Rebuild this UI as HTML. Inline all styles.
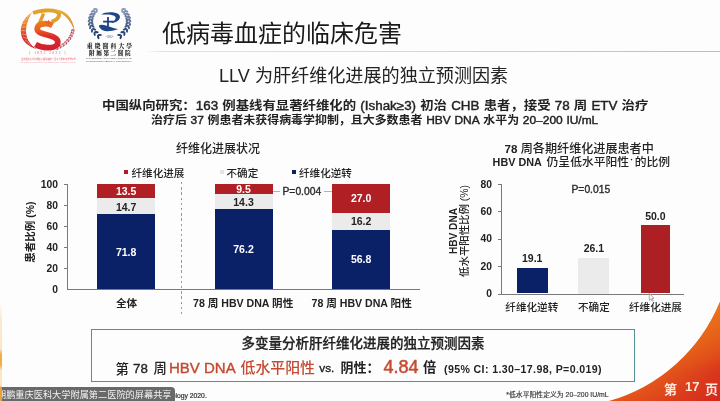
<!DOCTYPE html>
<html><head><meta charset="utf-8">
<style>
*{margin:0;padding:0;box-sizing:border-box}
html,body{width:720px;height:401px;overflow:hidden;background:#fefdfe}
body{position:relative;font-family:"Liberation Sans","Noto Sans CJK SC",sans-serif;color:#222}
.a{position:absolute;white-space:nowrap;line-height:1}
.m{font-weight:500}
.L{font-weight:bold}
.R{font-weight:normal;-webkit-text-stroke:0.45px #222}
.bar{position:absolute}
.red{background:#b01f24}
.gry{background:#ebebeb}
.nav{background:#0a2168}
.lbl{position:absolute;white-space:nowrap;line-height:1;font-weight:bold;font-size:10.5px;text-align:center}
.tk{position:absolute;white-space:nowrap;line-height:1;font-weight:bold;font-size:10.3px;text-align:right;color:#222}
.ax{position:absolute;background:#7a7a7a}
.or{color:#c44a30}
</style></head><body>
<div id="root" style="position:absolute;left:0;top:0;width:720px;height:401px;overflow:hidden;background:#fefdfe;filter:blur(0.3px)">

<!-- logos -->
<svg class="a" style="left:0;top:0" width="145" height="70" viewBox="0 0 145 70">
  <defs>
    <linearGradient id="gc" x1="0" y1="0" x2="0" y2="1">
      <stop offset="0" stop-color="#ecb040"/><stop offset="0.35" stop-color="#e8782a"/><stop offset="0.65" stop-color="#dc3a2a"/><stop offset="1" stop-color="#cc1f2b"/>
    </linearGradient>
    <linearGradient id="gs" gradientUnits="userSpaceOnUse" x1="0" y1="23" x2="0" y2="48">
      <stop offset="0" stop-color="#ec7a1c"/><stop offset="0.3" stop-color="#e85a20"/><stop offset="0.55" stop-color="#dc2a2a"/><stop offset="1" stop-color="#d21f2e"/>
    </linearGradient>
    <linearGradient id="gw" gradientUnits="userSpaceOnUse" x1="0" y1="10" x2="0" y2="31">
      <stop offset="0" stop-color="#e6b040"/><stop offset="1" stop-color="#d8802a"/>
    </linearGradient>
  </defs>
  <!-- left crescent -->
  <path d="M32 12.5 C25 16.5 20.5 24 20.8 32 C21.2 40.5 27.5 46.5 37 49.3 C31 45.5 27 40.5 26.2 33.5 C25.5 26 28 19 32 12.5Z" fill="url(#gc)"/>
  <g stroke="#fff" stroke-width="0.5" opacity="0.75">
    <path d="M29.5 15.5 l-2.5 2.2"/><path d="M27.4 19 l-3.2 1.5"/><path d="M26.2 22.8 l-3.8 0.9"/><path d="M25.6 26.8 l-4.2 0.3"/><path d="M25.6 30.8 l-4.4 -0.3"/><path d="M26.0 34.8 l-4.3 -0.9"/><path d="M27.0 38.6 l-4.0 -1.6"/><path d="M28.6 42.2 l-3.6 -2.2"/><path d="M30.8 45.3 l-3.2 -2.6"/>
  </g>
  <!-- top gold band + P bowl -->
  <path d="M33 13 C40 10.2 51 9.5 56.5 11.5 C60.8 13.2 60.2 18.8 51.5 21.8" fill="none" stroke="#e2a22a" stroke-width="3.9"/>
  <path d="M43.5 13.5 C42 18 40 22 37.8 26.5" fill="none" stroke="#e49a2c" stroke-width="3.4"/>
  <!-- right swoosh -->
  <path d="M54.5 9.4 C64.5 9.4 72.8 16 74.6 31 C72 24 68 16.8 59.5 12.4Z" fill="url(#gw)"/>
  <!-- right wheat -->
  <path d="M73 29 C72.5 37 66 45 55.5 48.8" fill="none" stroke="#f2c8c8" stroke-width="3" opacity="0.8"/>
  <ellipse cx="72.0" cy="30.2" rx="1.3" ry="0.6" transform="rotate(123 72.0 30.2)" fill="#a8293d" opacity="0.85"/><ellipse cx="73.8" cy="30.5" rx="1.3" ry="0.6" transform="rotate(73 73.8 30.5)" fill="#a8293d" opacity="0.85"/><ellipse cx="71.4" cy="32.7" rx="1.3" ry="0.6" transform="rotate(132 71.4 32.7)" fill="#a62b3f" opacity="0.85"/><ellipse cx="73.1" cy="33.2" rx="1.3" ry="0.6" transform="rotate(82 73.1 33.2)" fill="#a62b3f" opacity="0.85"/><ellipse cx="70.4" cy="35.2" rx="1.3" ry="0.6" transform="rotate(141 70.4 35.2)" fill="#a42d41" opacity="0.85"/><ellipse cx="72.0" cy="36.0" rx="1.3" ry="0.6" transform="rotate(91 72.0 36.0)" fill="#a42d41" opacity="0.85"/><ellipse cx="69.1" cy="37.6" rx="1.3" ry="0.6" transform="rotate(148 69.1 37.6)" fill="#a22f43" opacity="0.85"/><ellipse cx="70.6" cy="38.6" rx="1.3" ry="0.6" transform="rotate(98 70.6 38.6)" fill="#a22f43" opacity="0.85"/><ellipse cx="67.3" cy="39.9" rx="1.3" ry="0.6" transform="rotate(156 67.3 39.9)" fill="#a03246" opacity="0.85"/><ellipse cx="68.7" cy="41.1" rx="1.3" ry="0.6" transform="rotate(106 68.7 41.1)" fill="#a03246" opacity="0.85"/><ellipse cx="65.2" cy="42.0" rx="1.3" ry="0.6" transform="rotate(163 65.2 42.0)" fill="#9d3448" opacity="0.85"/><ellipse cx="66.4" cy="43.4" rx="1.3" ry="0.6" transform="rotate(113 66.4 43.4)" fill="#9d3448" opacity="0.85"/><ellipse cx="62.8" cy="44.0" rx="1.3" ry="0.6" transform="rotate(169 62.8 44.0)" fill="#9b364a" opacity="0.85"/><ellipse cx="63.8" cy="45.5" rx="1.3" ry="0.6" transform="rotate(119 63.8 45.5)" fill="#9b364a" opacity="0.85"/><ellipse cx="60.0" cy="45.8" rx="1.3" ry="0.6" transform="rotate(176 60.0 45.8)" fill="#99384c" opacity="0.85"/><ellipse cx="60.8" cy="47.4" rx="1.3" ry="0.6" transform="rotate(126 60.8 47.4)" fill="#99384c" opacity="0.85"/><ellipse cx="56.9" cy="47.3" rx="1.3" ry="0.6" transform="rotate(182 56.9 47.3)" fill="#973a4e" opacity="0.85"/><ellipse cx="57.6" cy="49.0" rx="1.3" ry="0.6" transform="rotate(132 57.6 49.0)" fill="#973a4e" opacity="0.85"/>
  <!-- S -->
  <path d="M52.5 25.5 C47.5 22.6 37.8 23 37.2 28.4 C36.6 33.4 45 34 51 36 C57 38 59.5 41.5 56.8 45 C53.5 49 42 48.2 35.5 44.5" fill="none" stroke="url(#gs)" stroke-width="5.7"/>
  <path d="M48.4 20 v5.4 M45.7 22.7 h5.4" stroke="#dc5a2a" stroke-width="0.9"/>
  <text x="47.3" y="53.7" font-size="3.5" fill="#d86464" text-anchor="middle" font-family="Liberation Serif" textLength="36" lengthAdjust="spacing">( 1892 2022 )</text>
  <text x="48.5" y="59.7" font-size="2.8" fill="#e05060" text-anchor="middle" font-family="Noto Sans CJK SC" textLength="55" lengthAdjust="spacingAndGlyphs" opacity="0.85">重庆医科大学附属第二医院建院一百三十周年纪念暨学术</text>
  <text x="48" y="62.8" font-size="2.2" fill="#e8a0a8" text-anchor="middle" font-family="Liberation Sans" textLength="55" lengthAdjust="spacingAndGlyphs">THE SECOND AFFILIATED HOSPITAL OF CHONGQING MEDICAL UNIVERSITY 1892-2022</text>

  <!-- logo 2 laurel -->
  <ellipse cx="95.0" cy="9.0" rx="2.2" ry="1.05" transform="rotate(173 95.0 9.0)" fill="#8b9aba"/><ellipse cx="96.7" cy="10.9" rx="2.2" ry="1.05" transform="rotate(103 96.7 10.9)" fill="#8b9aba"/><ellipse cx="92.8" cy="11.3" rx="2.2" ry="1.05" transform="rotate(163 92.8 11.3)" fill="#7b8caf"/><ellipse cx="94.8" cy="12.9" rx="2.2" ry="1.05" transform="rotate(93 94.8 12.9)" fill="#7b8caf"/><ellipse cx="91.1" cy="14.1" rx="2.2" ry="1.05" transform="rotate(152 91.1 14.1)" fill="#6e80a5"/><ellipse cx="93.4" cy="15.2" rx="2.2" ry="1.05" transform="rotate(82 93.4 15.2)" fill="#6e80a5"/><ellipse cx="89.9" cy="17.1" rx="2.2" ry="1.05" transform="rotate(141 89.9 17.1)" fill="#62759c"/><ellipse cx="92.4" cy="17.8" rx="2.2" ry="1.05" transform="rotate(71 92.4 17.8)" fill="#62759c"/><ellipse cx="89.3" cy="20.3" rx="2.2" ry="1.05" transform="rotate(129 89.3 20.3)" fill="#566a93"/><ellipse cx="91.9" cy="20.5" rx="2.2" ry="1.05" transform="rotate(59 91.9 20.5)" fill="#566a93"/><ellipse cx="89.4" cy="23.7" rx="2.2" ry="1.05" transform="rotate(117 89.4 23.7)" fill="#4b608b"/><ellipse cx="92.0" cy="23.3" rx="2.2" ry="1.05" transform="rotate(47 92.0 23.3)" fill="#4b608b"/><ellipse cx="90.3" cy="27.1" rx="2.2" ry="1.05" transform="rotate(104 90.3 27.1)" fill="#405783"/><ellipse cx="92.7" cy="26.2" rx="2.2" ry="1.05" transform="rotate(34 92.7 26.2)" fill="#405783"/><ellipse cx="92.0" cy="30.6" rx="2.2" ry="1.05" transform="rotate(93 92.0 30.6)" fill="#364d7b"/><ellipse cx="94.2" cy="29.2" rx="2.2" ry="1.05" transform="rotate(23 94.2 29.2)" fill="#364d7b"/><ellipse cx="94.6" cy="33.9" rx="2.2" ry="1.05" transform="rotate(82 94.6 33.9)" fill="#2c4473"/><ellipse cx="96.5" cy="32.1" rx="2.2" ry="1.05" transform="rotate(12 96.5 32.1)" fill="#2c4473"/><ellipse cx="98.2" cy="37.1" rx="2.2" ry="1.05" transform="rotate(72 98.2 37.1)" fill="#223b6c"/><ellipse cx="99.7" cy="35.0" rx="2.2" ry="1.05" transform="rotate(2 99.7 35.0)" fill="#223b6c"/><ellipse cx="124.0" cy="9.0" rx="2.2" ry="1.05" transform="rotate(7 124.0 9.0)" fill="#8b9aba"/><ellipse cx="122.3" cy="10.9" rx="2.2" ry="1.05" transform="rotate(77 122.3 10.9)" fill="#8b9aba"/><ellipse cx="126.2" cy="11.3" rx="2.2" ry="1.05" transform="rotate(17 126.2 11.3)" fill="#7b8caf"/><ellipse cx="124.2" cy="12.9" rx="2.2" ry="1.05" transform="rotate(87 124.2 12.9)" fill="#7b8caf"/><ellipse cx="127.9" cy="14.1" rx="2.2" ry="1.05" transform="rotate(28 127.9 14.1)" fill="#6e80a5"/><ellipse cx="125.6" cy="15.2" rx="2.2" ry="1.05" transform="rotate(98 125.6 15.2)" fill="#6e80a5"/><ellipse cx="129.1" cy="17.1" rx="2.2" ry="1.05" transform="rotate(39 129.1 17.1)" fill="#62759c"/><ellipse cx="126.6" cy="17.8" rx="2.2" ry="1.05" transform="rotate(109 126.6 17.8)" fill="#62759c"/><ellipse cx="129.7" cy="20.3" rx="2.2" ry="1.05" transform="rotate(51 129.7 20.3)" fill="#566a93"/><ellipse cx="127.1" cy="20.5" rx="2.2" ry="1.05" transform="rotate(121 127.1 20.5)" fill="#566a93"/><ellipse cx="129.6" cy="23.7" rx="2.2" ry="1.05" transform="rotate(63 129.6 23.7)" fill="#4b608b"/><ellipse cx="127.0" cy="23.3" rx="2.2" ry="1.05" transform="rotate(133 127.0 23.3)" fill="#4b608b"/><ellipse cx="128.7" cy="27.1" rx="2.2" ry="1.05" transform="rotate(76 128.7 27.1)" fill="#405783"/><ellipse cx="126.3" cy="26.2" rx="2.2" ry="1.05" transform="rotate(146 126.3 26.2)" fill="#405783"/><ellipse cx="127.0" cy="30.6" rx="2.2" ry="1.05" transform="rotate(87 127.0 30.6)" fill="#364d7b"/><ellipse cx="124.8" cy="29.2" rx="2.2" ry="1.05" transform="rotate(157 124.8 29.2)" fill="#364d7b"/><ellipse cx="124.4" cy="33.9" rx="2.2" ry="1.05" transform="rotate(98 124.4 33.9)" fill="#2c4473"/><ellipse cx="122.5" cy="32.1" rx="2.2" ry="1.05" transform="rotate(168 122.5 32.1)" fill="#2c4473"/><ellipse cx="120.8" cy="37.1" rx="2.2" ry="1.05" transform="rotate(108 120.8 37.1)" fill="#223b6c"/><ellipse cx="119.3" cy="35.0" rx="2.2" ry="1.05" transform="rotate(178 119.3 35.0)" fill="#223b6c"/>
  <!-- emblem -->
  <path d="M101.3 14.6 C104.5 12 114 11.3 118.6 14.2 C121.5 16.5 119.6 21.2 114 22.6 L110.8 22.9 C114.3 21.3 116 19.3 115.6 17.3 C115 14.8 108 14.1 101.3 14.6Z" fill="#1d4688"/>
  <path d="M98.9 25.4 C99.6 30 104.8 31.6 110 31.1 C113.2 30.8 116 29.9 118 29 C114 28.6 110 27.1 106 25.6 C103 24.4 100.5 24.4 98.9 25.4Z" fill="#1d4688"/>
  <path d="M108 17 v9.8 M103.1 21.6 h10.7" stroke="#1d3f80" stroke-width="1.8"/>
  <text x="109.5" y="38.3" font-size="3" fill="#44609a" text-anchor="middle" font-family="Liberation Serif" font-style="italic">-1892-</text>
  <text x="109.5" y="48.3" font-size="5.9" fill="#222" text-anchor="middle" font-family="Noto Serif CJK SC" font-weight="900" textLength="45.5" lengthAdjust="spacing">重慶醫科大學</text>
  <text x="109.8" y="55.2" font-size="5.6" fill="#222" text-anchor="middle" font-family="Noto Serif CJK SC" font-weight="900" textLength="41.5" lengthAdjust="spacing">附屬第二醫院</text>
  <text x="109" y="59.2" font-size="2.5" fill="#555" text-anchor="middle" font-family="Liberation Sans" textLength="46" lengthAdjust="spacingAndGlyphs">THE SECOND AFFILIATED HOSPITAL OF</text>
  <text x="109" y="62.3" font-size="2.5" fill="#555" text-anchor="middle" font-family="Liberation Sans" textLength="46" lengthAdjust="spacingAndGlyphs">CHONGQING MEDICAL UNIVERSITY</text>
</svg>

<!-- title -->
<div class="a" id="t1" style="left:162px;top:20px;font-size:24px;color:#1a1a1a;font-family:'Noto Sans CJK SC',sans-serif">低病毒血症的临床危害</div>
<div class="a" style="left:145px;top:50.8px;width:575px;height:1.7px;background:linear-gradient(90deg,rgba(236,232,196,0),#e9e4bf 3%,#e6dfc2 28%,#ddd2c2 52%,#c6b8b3 100%)"></div>

<!-- subtitle -->
<div class="a" id="t2" style="left:219px;top:67.3px;font-size:18.1px;color:#222">LLV 为肝纤维化进展的独立预测因素</div>

<!-- body text -->
<div class="a" id="t3" style="left:102px;top:98.5px;font-size:13.4px;word-spacing:0.45px;font-weight:bold;transform:scaleY(0.9);transform-origin:0 55%;color:#222">中国纵向研究：<span class="R">163</span> 例基线有显著纤维化的 <span class="R">(Ishak≥3)</span> 初治 <span class="R">CHB</span> 患者，接受 <span class="R">78</span> 周 <span class="R">ETV</span> 治疗</div>
<div class="a" id="t4" style="left:151px;top:114.8px;font-size:11.95px;word-spacing:0.4px;font-weight:bold;transform:scaleY(0.92);transform-origin:0 55%;color:#222">治疗后 <span class="R">37</span> 例患者未获得病毒学抑制，且大多数患者 <span class="R">HBV DNA</span> 水平为 <span class="R">20–200 IU/mL</span></div>

<!-- LEFT CHART -->
<div class="a m" id="c1t" style="left:176px;top:143px;font-size:12px;color:#222">纤维化进展状况</div>
<div class="a" style="left:124.3px;top:170px;width:4px;height:4px;background:#b01f24"></div>
<div class="a m" id="lg1" style="left:131.5px;top:167.8px;font-size:10.6px;color:#222">纤维化进展</div>
<div class="a" style="left:220px;top:170px;width:4px;height:4px;background:#e4e4e4"></div>
<div class="a m" id="lg2" style="left:226.5px;top:167.8px;font-size:10.6px;color:#222">不确定</div>
<div class="a" style="left:292.3px;top:170px;width:4px;height:4px;background:#0a2168"></div>
<div class="a m" id="lg3" style="left:299px;top:167.8px;font-size:10.6px;color:#222">纤维化逆转</div>

<!-- axes -->
<div class="ax" style="left:66.5px;top:184px;width:1px;height:106px"></div>
<div class="ax" style="left:66.5px;top:289px;width:353px;height:1px"></div>
<div class="ax" style="left:64px;top:184px;width:3px;height:1px"></div>
<div class="ax" style="left:64px;top:205px;width:3px;height:1px"></div>
<div class="ax" style="left:64px;top:226px;width:3px;height:1px"></div>
<div class="ax" style="left:64px;top:247px;width:3px;height:1px"></div>
<div class="ax" style="left:64px;top:268px;width:3px;height:1px"></div>
<div class="tk" style="left:30px;width:28px;top:179.5px">100</div>
<div class="tk" style="left:30px;width:28px;top:200.5px">80</div>
<div class="tk" style="left:30px;width:28px;top:221.5px">60</div>
<div class="tk" style="left:30px;width:28px;top:242.5px">40</div>
<div class="tk" style="left:30px;width:28px;top:263.5px">20</div>
<div class="tk" style="left:30px;width:28px;top:284.5px">0</div>
<div class="a" id="yl1" style="left:29.5px;top:232.3px;font-size:10.5px;font-weight:bold;color:#222;transform:translate(-50%,-50%) rotate(-90deg)">患者比例 (%)</div>

<!-- dashed separator -->
<div class="a" style="left:180.5px;top:182px;width:1px;height:135px;background:repeating-linear-gradient(180deg,#999 0 2.5px,transparent 2.5px 5.2px)"></div>

<!-- bar1 -->
<div class="bar red" style="left:97px;top:184.3px;width:58.2px;height:13.7px"></div>
<div class="bar gry" style="left:97px;top:198px;width:58.2px;height:15.8px"></div>
<div class="bar nav" style="left:97px;top:213.8px;width:58.2px;height:75.2px"></div>
<!-- bar2 -->
<div class="bar red" style="left:214.5px;top:184.3px;width:58px;height:9.9px"></div>
<div class="bar gry" style="left:214.5px;top:194.2px;width:58px;height:15px"></div>
<div class="bar nav" style="left:214.5px;top:209.2px;width:58px;height:79.8px"></div>
<!-- bar3 -->
<div class="bar red" style="left:332px;top:184.3px;width:58.3px;height:28.5px"></div>
<div class="bar gry" style="left:332px;top:212.8px;width:58.3px;height:17px"></div>
<div class="bar nav" style="left:332px;top:229.8px;width:58.3px;height:59.2px"></div>

<!-- bar values -->
<div class="lbl" style="left:97px;width:58.2px;top:186px;color:#fff">13.5</div>
<div class="lbl" style="left:97px;width:58.2px;top:201.5px;color:#222">14.7</div>
<div class="lbl" style="left:97px;width:58.2px;top:246.5px;color:#fff">71.8</div>
<div class="lbl" style="left:214.5px;width:58px;top:184.3px;color:#fff">9.5</div>
<div class="lbl" style="left:214.5px;width:58px;top:197px;color:#222">14.3</div>
<div class="lbl" style="left:214.5px;width:58px;top:244px;color:#fff">76.2</div>
<div class="lbl" style="left:332px;width:58.3px;top:193px;color:#fff">27.0</div>
<div class="lbl" style="left:332px;width:58.3px;top:216px;color:#222">16.2</div>
<div class="lbl" style="left:332px;width:58.3px;top:254px;color:#fff">56.8</div>

<!-- p-value bracket -->
<div class="a" style="left:272.5px;top:190.5px;width:7.5px;height:1px;background:#d9a494"></div>
<div class="a" style="left:324px;top:190.5px;width:8px;height:1px;background:#d9a494"></div>
<div class="a m" id="p1" style="left:282.5px;top:187px;font-size:10.3px;color:#2a2a2a;-webkit-text-stroke:0.35px #2a2a2a">P=0.004</div>

<!-- x labels -->
<div class="a" id="xl1" style="left:116px;top:298px;font-size:10.6px;font-weight:bold;color:#222">全体</div>
<div class="a" id="xl2" style="left:193px;top:298px;font-size:10.6px;font-weight:bold;color:#222">78 周 HBV DNA 阴性</div>
<div class="a" id="xl3" style="left:311.5px;top:298px;font-size:10.6px;font-weight:bold;color:#222">78 周 HBV DNA 阳性</div>

<!-- RIGHT CHART -->
<div class="a m" id="r1" style="left:504.5px;top:142.8px;font-size:12.1px;color:#222"><span class="L" style="font-size:11.6px">78</span> 周各期纤维化进展患者中</div>
<div class="a m" id="r2" style="left:492.6px;top:156.7px;font-size:11.8px;color:#222"><span class="L" style="font-size:10.8px;margin-right:1.5px">HBV DNA</span> 仍呈低水平阳性<span style="font-size:9px;position:relative;top:-2.5px;margin:0 1.5px 0 1px;font-weight:bold">·</span>的比例</div>

<div class="ax" style="left:500.8px;top:184px;width:1px;height:110px"></div>
<div class="ax" style="left:498px;top:293.5px;width:186px;height:1px"></div>
<div class="ax" style="left:498px;top:184px;width:3px;height:1px"></div>
<div class="ax" style="left:498px;top:211.4px;width:3px;height:1px"></div>
<div class="ax" style="left:498px;top:238.8px;width:3px;height:1px"></div>
<div class="ax" style="left:498px;top:266.2px;width:3px;height:1px"></div>
<div class="tk" style="left:470px;width:22px;top:179.5px">80</div>
<div class="tk" style="left:470px;width:22px;top:206.9px">60</div>
<div class="tk" style="left:470px;width:22px;top:234.3px">40</div>
<div class="tk" style="left:470px;width:22px;top:261.7px">20</div>
<div class="tk" style="left:470px;width:22px;top:289.1px">0</div>
<div class="a" id="yl2a" style="left:453.5px;top:231px;font-size:10.1px;font-weight:bold;color:#222;transform:translate(-50%,-50%) rotate(-90deg)">HBV DNA</div>
<div class="a" id="yl2b" style="left:464.8px;top:230.8px;font-size:10.4px;color:#222;font-weight:500;transform:translate(-50%,-50%) rotate(-90deg)">低水平阳性比例 (%)</div>

<div class="a m" id="p2" style="left:571.5px;top:185px;font-size:10.3px;color:#2a2a2a;-webkit-text-stroke:0.35px #2a2a2a">P=0.015</div>

<div class="bar nav" style="left:516.9px;top:267.7px;width:30.7px;height:25.8px"></div>
<div class="bar gry" style="left:578.4px;top:258px;width:31px;height:35.5px;background:#ebebeb"></div>
<div class="bar red" style="left:640.6px;top:225.3px;width:29.5px;height:68.2px;background:#ac1f22"></div>
<div class="lbl" style="left:516.9px;width:30.7px;top:252.5px;color:#222">19.1</div>
<div class="lbl" style="left:578.4px;width:31px;top:243px;color:#222">26.1</div>
<div class="lbl" style="left:640.6px;width:29.5px;top:210.5px;color:#222">50.0</div>

<div class="a m" id="rx1" style="left:505.3px;top:302px;font-size:10.6px;color:#222">纤维化逆转</div>
<div class="a m" id="rx2" style="left:578px;top:302px;font-size:10.6px;color:#222">不确定</div>
<div class="a m" id="rx3" style="left:629px;top:302px;font-size:10.6px;color:#222">纤维化进展</div>

<!-- cursor -->
<svg class="a" style="left:640px;top:288px" width="20" height="16" viewBox="640 288 20 16"><path d="M649.3 293.3 L649.3 300.3 L650.9 298.8 L652 301.2 L653.1 300.7 L652 298.4 L654 298.4 Z" fill="#fff" stroke="#8a8a8a" stroke-width="0.7"/></svg>

<!-- bottom box -->
<div class="a" style="left:90.9px;top:329px;width:544.2px;height:52.6px;border:1.6px solid #578f93"></div>
<div class="a m" id="bx1" style="left:241.5px;top:336.5px;font-size:13.5px;color:#222;-webkit-text-stroke:0.25px #222">多变量分析肝纤维化进展的独立预测因素</div>

<div class="a m" id="b1" style="left:115.5px;top:362.5px;font-size:13.3px">第</div>
<div class="a" id="b2" style="left:133px;top:361.5px;font-size:13.3px;-webkit-text-stroke:0.35px #222">78</div>
<div class="a m" id="b3" style="left:153.5px;top:362px;font-size:13.3px">周</div>
<div class="a or" id="b4" style="left:169px;top:359.7px;font-size:15px;-webkit-text-stroke:0.4px #c44a30">HBV DNA</div>
<div class="a or m" id="b5" style="left:240.5px;top:361px;font-size:14.9px">低水平阳性</div>
<div class="a" id="b6" style="left:319.3px;top:363.3px;font-size:11.8px;-webkit-text-stroke:0.35px #222">vs.</div>
<div class="a L" id="b7" style="left:340.5px;top:360.5px;font-size:13px">阴性：</div>
<div class="a or" id="b8" style="left:383.5px;top:357.5px;font-size:18px;-webkit-text-stroke:0.45px #c44a30">4.84</div>
<div class="a L" id="b9" style="left:423px;top:360.5px;font-size:13.3px">倍</div>
<div class="a" id="b10" style="left:444px;top:363.5px;font-size:10.6px;font-weight:bold;letter-spacing:0.38px">(95% CI: 1.30–17.98, P=0.019)</div>

<!-- footnotes -->
<div class="a" id="fn1" style="left:153.5px;top:392.5px;font-size:6.8px;color:#333;-webkit-text-stroke:0.2px #333">Hepatology 2020.</div>
<div class="a" id="fn2" style="left:506.3px;top:392.3px;font-size:6.85px;color:#333;-webkit-text-stroke:0.15px #333">*低水平阳性定义为 20–200 IU/mL</div>

<!-- corner swoosh -->
<svg class="a" style="left:560px;top:290px" width="160" height="111" viewBox="560 290 160 111">
  <defs>
    <radialGradient id="sw" gradientUnits="userSpaceOnUse" cx="563" cy="237" r="235">
      <stop offset="0.72" stop-color="#e4561a"/><stop offset="0.86" stop-color="#da381c"/><stop offset="1" stop-color="#d2201e"/>
    </radialGradient>
    <linearGradient id="sw2" gradientUnits="userSpaceOnUse" x1="0" y1="300" x2="0" y2="372">
      <stop offset="0" stop-color="#ec7a18" stop-opacity="0.9"/><stop offset="1" stop-color="#ec7a18" stop-opacity="0"/>
    </linearGradient>
  </defs>
  <path d="M720 301.7 A170.6 170.6 0 0 1 608.8 401 L720 401 Z" fill="url(#sw)"/>
  <path d="M720 301.7 A170.6 170.6 0 0 1 608.8 401 L720 401 Z" fill="url(#sw2)"/>
</svg>
<div class="a" style="left:664px;top:382px;font-size:13px;color:#ffe6da;font-weight:bold;font-family:'Noto Sans CJK SC',sans-serif">第</div>
<div class="a" style="left:685px;top:380px;font-size:13px;color:#ffe6da;font-weight:bold">17</div>
<div class="a" style="left:705px;top:382px;font-size:13px;color:#ffe6da;font-weight:bold;font-family:'Noto Sans CJK SC',sans-serif">页</div>


<!-- screen share overlay -->
<div class="a" style="left:-10px;top:386.6px;width:184.5px;height:20px;background:#696969;border-radius:0 4px 0 0"></div>
<div class="a" id="ov" style="left:-3px;top:389.5px;font-size:9.2px;color:#f4f4f4;font-family:'Noto Sans CJK SC',sans-serif">胡鹏重庆医科大学附属第二医院的屏幕共享</div>

<!-- left edge strip -->
<div class="a" style="left:0;top:300px;width:1.6px;height:101px;background:linear-gradient(180deg,rgba(240,200,120,0),rgba(240,200,120,0.35) 20%,rgba(240,190,100,0.35) 48%,#f0b040 54%,#f0b040 64%,rgba(240,190,100,0.35) 70%,rgba(240,190,100,0.35) 85%,#eea030 87%,#eea030)"></div>
</div>
</body></html>
